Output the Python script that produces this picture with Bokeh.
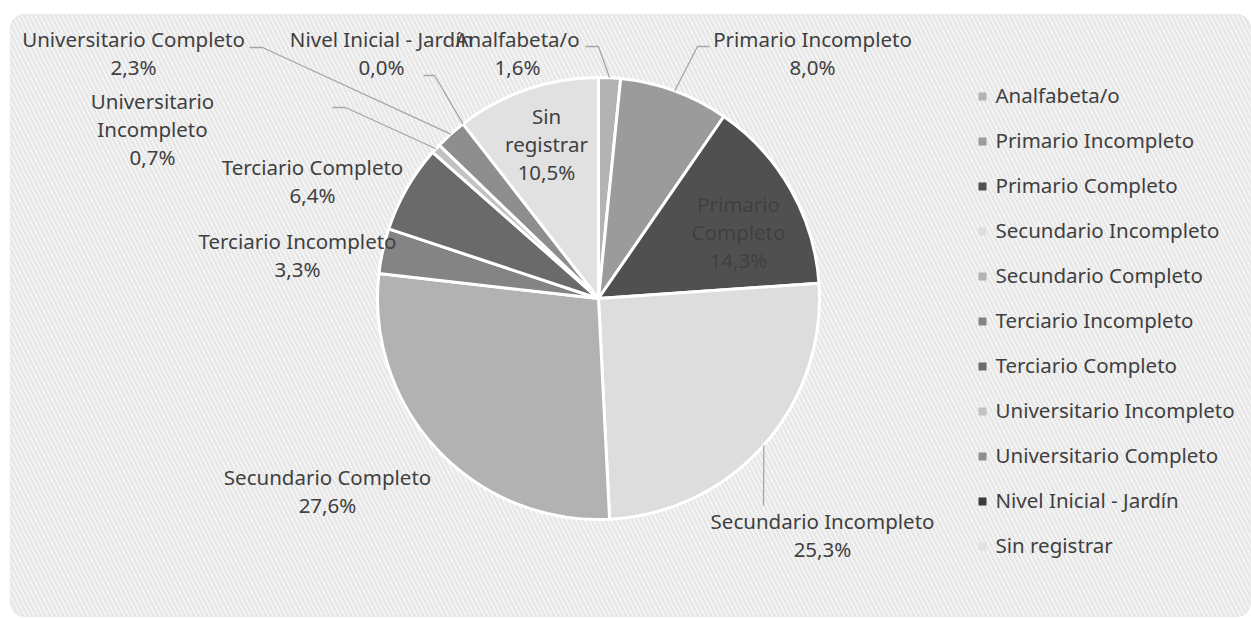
import math
from bokeh.plotting import figure
from bokeh.models import Range1d, BoxAnnotation
from bokeh.core.properties import value
from bokeh.embed import file_html
from bokeh.resources import INLINE

# ---------------- data ----------------
categories = ["Analfabeta/o", "Primario Incompleto", "Primario Completo",
              "Secundario Incompleto", "Secundario Completo", "Terciario Incompleto",
              "Terciario Completo", "Universitario Incompleto", "Universitario Completo",
              "Nivel Inicial - Jardín", "Sin registrar"]
percents = [1.6, 8.0, 14.3, 25.3, 27.6, 3.3, 6.4, 0.7, 2.3, 0.0, 10.5]
colors = ["#b3b3b3", "#9b9b9b", "#505050", "#dddddd", "#b2b2b2", "#848484",
          "#6a6a6a", "#c2c2c2", "#8e8e8e", "#3a3a3a", "#e1e1e1"]
label_lines = [["Analfabeta/o", "1,6%"], ["Primario Incompleto", "8,0%"],
               ["Primario", "Completo", "14,3%"], ["Secundario Incompleto", "25,3%"],
               ["Secundario Completo", "27,6%"], ["Terciario Incompleto", "3,3%"],
               ["Terciario Completo", "6,4%"], ["Universitario", "Incompleto", "0,7%"],
               ["Universitario Completo", "2,3%"], ["Nivel Inicial - Jardín", "0,0%"],
               ["Sin", "registrar", "10,5%"]]

# ---------------- layout (screenshot pixel coordinates) ----------------
W, H = 1251, 618
def Y(py):
    return H - py

CX, CY, R = 598, 298, 221
FONT = value("Noto Sans")
TXT = "#404040"
FS = "20.5px"
LINE_H = 28
DY = -2  # baseline correction for the font

# first-line centre of each data label
label_pos = {
    "Analfabeta/o": (517, 40), "Primario Incompleto": (812, 40),
    "Primario Completo": (738, 205), "Secundario Incompleto": (822, 522),
    "Secundario Completo": (327, 478), "Terciario Incompleto": (297, 242),
    "Terciario Completo": (312, 168), "Universitario Incompleto": (152, 102),
    "Universitario Completo": (133, 40), "Nivel Inicial - Jardín": (381, 40),
    "Sin registrar": (546, 117),
}
# leader lines: elbow and end points near the label
leaders = {
    "Analfabeta/o": [(598, 46), (585, 46)],
    "Primario Incompleto": [(697, 46), (709, 46)],
    "Secundario Incompleto": [(763, 505)],
    "Universitario Incompleto": [(345, 107), (332, 107)],
    "Universitario Completo": [(262, 47), (249, 47)],
    "Nivel Inicial - Jardín": [(434, 75), (423, 75)],
}

p = figure(width=W, height=H, output_backend="svg", toolbar_location=None,
           x_range=Range1d(0, W), y_range=Range1d(0, H),
           x_axis_location=None, y_axis_location=None, min_border=0)
p.grid.visible = False
p.outline_line_color = None
p.background_fill_color = "white"
p.border_fill_color = "white"

# hatched rounded chart area
box = BoxAnnotation(left=10, right=W - 1, bottom=2, top=Y(14),
                    fill_color="#ffffff", fill_alpha=1.0,
                    hatch_pattern="\\", hatch_color="#e8e8e8", hatch_scale=9,
                    hatch_weight=3.2, line_color="#d6d6d6", line_width=1.5,
                    border_radius=14, level="underlay")
p.add_layout(box)

# wedges
total = sum(percents)
start, end, mids = [], [], []
cum = 0.0
for v in percents:
    a0 = math.pi / 2 - 2 * math.pi * cum / total
    cum += v
    a1 = math.pi / 2 - 2 * math.pi * cum / total
    start.append(a0)
    end.append(a1)
    mids.append((a0 + a1) / 2)

keep = [i for i, v in enumerate(percents) if v > 0]
p.wedge(x=[CX] * len(keep), y=[Y(CY)] * len(keep), radius=R,
        radius_units="screen", start_angle=[start[i] for i in keep],
        end_angle=[end[i] for i in keep], direction="clock",
        fill_color=[colors[i] for i in keep], line_color="white", line_width=3)

# leader lines
for i, c in enumerate(categories):
    if c not in leaders:
        continue
    ex = CX + R * math.cos(mids[i])
    ey = CY - R * math.sin(mids[i])
    xs = [ex] + [q[0] for q in leaders[c]]
    ys = [Y(ey)] + [Y(q[1]) for q in leaders[c]]
    p.line(xs, ys, line_color="#a6a6a6", line_width=1.3)

# data labels
tx, ty, tt = [], [], []
for i, c in enumerate(categories):
    lx, ly = label_pos[c]
    for k, line in enumerate(label_lines[i]):
        tx.append(lx)
        ty.append(Y(ly + k * LINE_H + DY))
        tt.append(line)
p.text(x=tx, y=ty, text=tt, text_font=FONT, text_font_size=FS,
       text_color=TXT, text_align="center", text_baseline="middle")

# legend
LX, LY0, LDY = 982, 96, 45.0
lgy = [Y(LY0 + i * LDY) for i in range(len(categories))]
p.scatter(x=[LX] * len(categories), y=lgy, marker="square", size=8,
          fill_color=colors, line_color=None)
p.text(x=[LX + 13] * len(categories), y=[v - DY for v in lgy], text=categories,
       text_font=FONT, text_font_size=FS, text_color=TXT, text_align="left",
       text_baseline="middle")

open("out.html", "w").write(file_html(p, INLINE))
